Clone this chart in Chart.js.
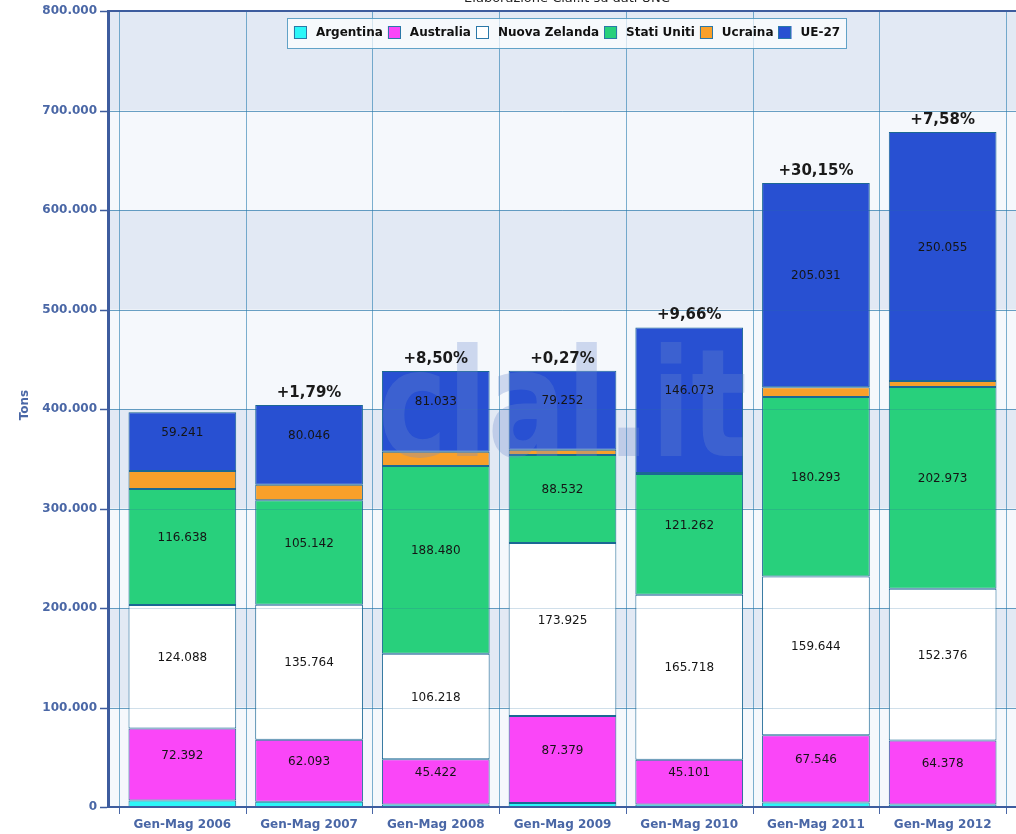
<!DOCTYPE html>
<html>
<head>
<meta charset="utf-8">
<script src="https://cdn.jsdelivr.net/npm/chart.js@4"></script>
<style>
  html, body { margin: 0; padding: 0; background: #fff; }
  #wrap { width: 1016px; height: 834px; }
</style>
</head>
<body>
<div id="wrap"><canvas id="chart" width="1016" height="834"></canvas></div>
<script>
// --- dati ---
const categories = ['Gen-Mag 2006', 'Gen-Mag 2007', 'Gen-Mag 2008', 'Gen-Mag 2009', 'Gen-Mag 2010', 'Gen-Mag 2011', 'Gen-Mag 2012'];
const argentina = [6500, 5400, 2500, 4000, 2500, 4500, 2500];
const australia = [72392, 62093, 45422, 87379, 45101, 67546, 64378];
const nuovaZelanda = [124088, 135764, 106218, 173925, 165718, 159644, 152376];
const statiUniti = [116638, 105142, 188480, 88532, 121262, 180293, 202973];
const ucraina = [18000, 15500, 14500, 5300, 1200, 10000, 6000];
const ue27 = [59241, 80046, 81033, 79252, 146073, 205031, 250055];
const variazioni = ['', '+1,79%', '+8,50%', '+0,27%', '+9,66%', '+30,15%', '+7,58%'];
const yTicks = [0, 100000, 200000, 300000, 400000, 500000, 600000, 700000, 800000];

const axisColor = '#3d5c9e';
const labelColor = '#4a67a6';
const gridColor = 'rgba(40, 125, 175, 0.6)';
const barBorder = '#1b6894';

function fmt(v) {
    return String(v).replace(/\B(?=(\d{3})+(?!\d))/g, '.');
}

// sfondo a bande, griglia, etichette e cornice
const backgroundPlugin = {
    id: 'sfondo',
    beforeDatasetsDraw(chart) {
        const ctx = chart.ctx;
        const y = chart.scales.y;
        const area = chart.chartArea;
        ctx.save();
        for (let i = 0; i < yTicks.length - 1; i++) {
            const top = y.getPixelForValue(yTicks[i + 1]);
            const bot = y.getPixelForValue(yTicks[i]);
            ctx.fillStyle = (i % 2 === 1) ? '#e2e9f4' : '#f5f8fc';
            ctx.fillRect(109, top, 1016 - 109, bot - top);
        }
        ctx.strokeStyle = gridColor;
        ctx.lineWidth = 1;
        const catW = (area.right - area.left) / categories.length;
        for (let i = 0; i <= categories.length; i++) {
            const px = Math.round(area.left + i * catW) + 0.5;
            ctx.beginPath();
            ctx.moveTo(px, area.top);
            ctx.lineTo(px, area.bottom);
            ctx.stroke();
        }
        yTicks.forEach(t => {
            const py = Math.round(y.getPixelForValue(t)) + 0.5;
            ctx.beginPath();
            ctx.moveTo(109, py);
            ctx.lineTo(1016, py);
            ctx.stroke();
        });
        ctx.restore();
    },
    afterDatasetsDraw(chart) {
        const ctx = chart.ctx;
        const y = chart.scales.y;
        const area = chart.chartArea;
        ctx.save();

        // griglia sopra le barre (leggera)
        ctx.strokeStyle = 'rgba(40, 110, 160, 0.22)';
        ctx.lineWidth = 1;
        yTicks.forEach(t => {
            const py = Math.round(y.getPixelForValue(t)) + 0.5;
            ctx.beginPath();
            ctx.moveTo(109, py);
            ctx.lineTo(1016, py);
            ctx.stroke();
        });

        // filigrana
        ctx.save();
        ctx.translate(378, 456);
        ctx.scale(0.78, 1);
        ctx.font = 'bold 150px "DejaVu Sans"';
        ctx.textAlign = 'left';
        ctx.textBaseline = 'alphabetic';
        ctx.fillStyle = 'rgba(110, 140, 205, 0.3)';
        ctx.fillText('clal.it', 0, 0);
        ctx.restore();

        // etichette valori dentro i segmenti
        ctx.font = '12px "DejaVu Sans"';
        ctx.fillStyle = '#151515';
        ctx.textAlign = 'center';
        ctx.textBaseline = 'middle';
        [1, 2, 3, 5].forEach(di => {
            const meta = chart.getDatasetMeta(di);
            meta.data.forEach((bar, i) => {
                const cy = (bar.y + bar.base) / 2 - 9;
                ctx.fillText(fmt(chart.data.datasets[di].data[i]), bar.x, cy);
            });
        });

        // variazioni percentuali sopra le colonne
        ctx.font = 'bold 15px "DejaVu Sans"';
        ctx.fillStyle = '#1a1a1a';
        const topMeta = chart.getDatasetMeta(5);
        topMeta.data.forEach((bar, i) => {
            if (variazioni[i]) ctx.fillText(variazioni[i], bar.x, bar.y - 12);
        });

        // cornice ed assi
        ctx.fillStyle = axisColor;
        ctx.fillRect(107, 10, 3, 798);
        ctx.fillRect(107, 10, 1016 - 107, 2);
        ctx.fillRect(107, 806, 1016 - 107, 2);
        ctx.strokeStyle = axisColor;
        ctx.lineWidth = 1.5;
        yTicks.forEach(t => {
            const py = Math.round(y.getPixelForValue(t)) + 0.5;
            ctx.beginPath();
            ctx.moveTo(100, py);
            ctx.lineTo(107, py);
            ctx.stroke();
        });
        const catW = (area.right - area.left) / categories.length;
        ctx.strokeStyle = labelColor;
        ctx.lineWidth = 1;
        for (let i = 0; i <= categories.length; i++) {
            const px = Math.round(area.left + i * catW) + 0.5;
            ctx.beginPath();
            ctx.moveTo(px, 808);
            ctx.lineTo(px, 814);
            ctx.stroke();
        }

        // titolo asse y
        ctx.save();
        ctx.translate(25, 405);
        ctx.rotate(-Math.PI / 2);
        ctx.font = 'bold 12px "DejaVu Sans"';
        ctx.fillStyle = labelColor;
        ctx.textAlign = 'center';
        ctx.textBaseline = 'middle';
        ctx.fillText('Tons', 0, 0);
        ctx.restore();

        // titolo tagliato in alto
        ctx.font = '13px "DejaVu Sans"';
        ctx.fillStyle = '#222';
        ctx.textAlign = 'center';
        ctx.textBaseline = 'alphabetic';
        ctx.fillText('Elaborazione Clal.it su dati UNC', 567, 2);

        // legenda
        ctx.font = 'bold 12px "DejaVu Sans"';
        const items = chart.data.datasets.map(d => ({ label: d.label, color: d.legendColor }));
        const sw = 13, gap1 = 9, gap2 = 5;
        let total = 0;
        items.forEach(it => { it.w = sw + gap1 + ctx.measureText(it.label).width; total += it.w; });
        total += gap2 * (items.length - 1);
        let lx = 567 - total / 2;
        const boxL = Math.round(lx) - 7, boxR = Math.round(lx + total) + 7;
        ctx.fillStyle = 'rgba(255, 255, 255, 0.7)';
        ctx.fillRect(boxL, 18, boxR - boxL, 31);
        ctx.strokeStyle = 'rgba(60, 140, 185, 0.8)';
        ctx.lineWidth = 1;
        ctx.strokeRect(boxL + 0.5, 18.5, boxR - boxL - 1, 30);
        ctx.textAlign = 'left';
        ctx.textBaseline = 'middle';
        items.forEach(it => {
            ctx.fillStyle = it.color;
            ctx.fillRect(lx, 26, sw, sw);
            ctx.strokeStyle = '#2a78a8';
            ctx.strokeRect(Math.round(lx) + 0.5, 26.5, sw - 1, sw - 1);
            ctx.fillStyle = '#111';
            ctx.fillText(it.label, lx + sw + gap1, 33);
            lx += it.w + gap2;
        });

        ctx.restore();
    }
};

function serie(label, data, color) {
    return {
        label: label,
        data: data,
        backgroundColor: color,
        legendColor: color,
        borderColor: barBorder,
        borderWidth: 1,
        borderSkipped: false,
        barPercentage: 0.85,
        categoryPercentage: 1.0
    };
}

const chart = new Chart(document.getElementById('chart'), {
    type: 'bar',
    data: {
        labels: categories,
        datasets: [
            serie('Argentina', argentina, '#2cf6f8'),
            serie('Australia', australia, '#fa46f8'),
            serie('Nuova Zelanda', nuovaZelanda, '#ffffff'),
            serie('Stati Uniti', statiUniti, '#28d07c'),
            serie('Ucraina', ucraina, '#f9a02a'),
            serie('UE-27', ue27, '#2850d2')
        ]
    },
    options: {
        responsive: false,
        animation: false,
        layout: { padding: { top: 11, right: 10, left: 0, bottom: 0 } },
        plugins: { legend: { display: false }, tooltip: { enabled: false }, title: { display: false } },
        scales: {
            x: {
                stacked: true,
                offset: true,
                grid: { display: false, drawTicks: false },
                border: { display: false },
                ticks: { color: labelColor, font: { family: 'DejaVu Sans', size: 12, weight: 'bold' }, padding: 11, maxRotation: 0, autoSkip: false },
                afterFit(scale) { scale.height = 27; scale.paddingLeft = 0; scale.paddingRight = 0; }
            },
            y: {
                stacked: true,
                min: 0,
                max: 800000,
                grid: { display: false, drawTicks: false },
                border: { display: false },
                ticks: {
                    stepSize: 100000,
                    padding: 22,
                    color: labelColor,
                    font: { family: 'DejaVu Sans', size: 12, weight: 'bold' },
                    callback: v => fmt(v)
                },
                afterFit(scale) { scale.width = 119; scale.paddingTop = 0; scale.paddingBottom = 0; }
            }
        }
    },
    plugins: [backgroundPlugin]
});
</script>
</body>
</html>
